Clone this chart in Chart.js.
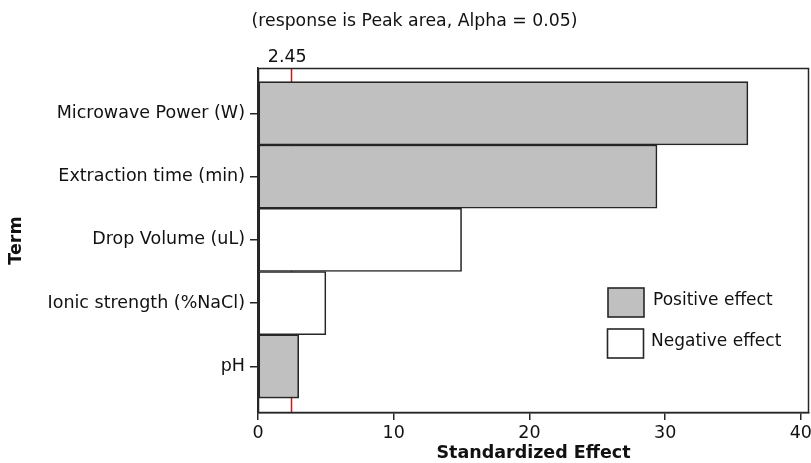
<!DOCTYPE html>
<html><head><meta charset="utf-8">
<script src="https://cdn.jsdelivr.net/npm/chart.js@4/dist/chart.umd.min.js"></script>
<style>html,body{margin:0;padding:0;background:#fff}canvas{display:block}</style>
</head><body>
<canvas id="c" width="811" height="463"></canvas>
<script>
// ---- data ----
const terms = ['Microwave Power (W)', 'Extraction time (min)', 'Drop Volume (uL)', 'Ionic strength (%NaCl)', 'pH'];
const effects = [36.1, 29.4, 15.0, 5.0, 3.0];
const effectSign = ['Positive', 'Positive', 'Negative', 'Negative', 'Positive'];
const xTickValues = [0, 10, 20, 30, 40];
const criticalValue = 2.45;
const criticalLabel = '2.45';
const chartTitle = '(response is Peak area, Alpha = 0.05)';
const legendLabels = ['Positive effect', 'Negative effect'];
const xTitle = 'Standardized Effect';
const yTitle = 'Term';

// ---- style ----
const FONT = 'DejaVu Sans';
const FS = 17.5;
const POS_COLOR = '#c0c0c0';
const NEG_COLOR = '#ffffff';
const LINE = '#262626';
const RED = 'rgb(255,0,0)';

const decor = {
  id: 'decor',
  beforeDatasetsDraw(chart) {
    const {ctx, chartArea: a, scales: {x}} = chart;
    const px = Math.round(x.getPixelForValue(criticalValue)) + 0.5;
    ctx.save();
    ctx.globalAlpha = 1;
    ctx.setLineDash([]);
    ctx.strokeStyle = RED;
    ctx.lineWidth = 1.5;
    ctx.beginPath(); ctx.moveTo(px, a.top + 1); ctx.lineTo(px, a.bottom - 1); ctx.stroke();
    ctx.restore();
  },
  afterDraw(chart) {
    const {ctx, chartArea: a, scales: {x}} = chart;
    ctx.save();
    // frame
    ctx.strokeStyle = LINE; ctx.lineWidth = 1.5;
    ctx.strokeRect(a.left + 0.5, a.top + 0.5, a.right - a.left - 1, a.bottom - a.top - 1);
    // title
    ctx.fillStyle = '#111';
    ctx.font = '17.3px "' + FONT + '"';
    ctx.textAlign = 'center'; ctx.textBaseline = 'middle';
    ctx.fillText(chartTitle, chart.width / 2 + 9, 22);
    // critical value label
    ctx.font = FS + 'px "' + FONT + '"';
    const px = x.getPixelForValue(criticalValue);
    ctx.fillText(criticalLabel, px - 4, a.top - 11);
    // legend
    ctx.font = '17px "' + FONT + '"';
    const items = [
      {label: legendLabels[0], fill: POS_COLOR, bx: 608, by: 288, tx: 653, ty: 301},
      {label: legendLabels[1], fill: NEG_COLOR, bx: 607.5, by: 329, tx: 651, ty: 342}
    ];
    ctx.textAlign = 'left';
    items.forEach(it => {
      ctx.fillStyle = it.fill;
      ctx.fillRect(it.bx, it.by, 36, 29);
      ctx.strokeStyle = LINE; ctx.lineWidth = 1.6;
      ctx.strokeRect(it.bx, it.by, 36, 29);
      ctx.fillStyle = '#111';
      ctx.fillText(it.label, it.tx, it.ty);
    });
    ctx.restore();
  }
};

new Chart(document.getElementById('c'), {
  type: 'bar',
  data: {
    datasets: [{
      data: effects.map((v, i) => ({x: v, y: i})),
      backgroundColor: effectSign.map(s => s === 'Positive' ? POS_COLOR : NEG_COLOR),
      borderColor: LINE,
      borderWidth: 1.6,
      borderSkipped: false,
      barPercentage: 1,
      categoryPercentage: 1
    }]
  },
  options: {
    indexAxis: 'y',
    responsive: false,
    animation: false,
    devicePixelRatio: 1,
    layout: {padding: {top: 68, right: 2, left: 0, bottom: 0}},
    plugins: {legend: {display: false}, tooltip: {enabled: false}, title: {display: false}},
    scales: {
      x: {
        type: 'linear', min: 0, max: 40.6, offset: false,
        afterBuildTicks(s) { s.ticks = xTickValues.map(v => ({value: v})); },
        afterFit(s) { s.height = 50; s.paddingLeft = 0; s.paddingRight = 0; },
        grid: {display: true, offset: false, drawOnChartArea: false, drawTicks: true, tickLength: 7, color: LINE, lineWidth: 1.5},
        border: {display: true, color: LINE, width: 1.5},
        ticks: {color: '#111', font: {family: FONT, size: FS}, padding: 3, maxRotation: 0},
        title: {display: true, text: xTitle, color: '#111', font: {family: FONT, size: FS, weight: 'bold', lineHeight: 1.1}, padding: {top: 0, bottom: 0}}
      },
      y: {
        type: 'linear', reverse: true, min: -0.715, max: 4.736, offset: false,
        afterBuildTicks(s) { s.ticks = terms.map((t, i) => ({value: i})); },
        afterFit(s) { s.width = 258; s.paddingTop = 0; s.paddingBottom = 0; },
        grid: {display: true, offset: false, drawOnChartArea: false, drawTicks: true, tickLength: 8, color: LINE, lineWidth: 1.5},
        border: {display: true, color: LINE, width: 1.5},
        ticks: {color: '#111', font: {family: FONT, size: FS}, padding: 5, callback: v => terms[v] ?? ''},
        title: {display: true, text: yTitle, color: '#111', font: {family: FONT, size: FS, weight: 'bold', lineHeight: 1.2}, padding: {top: 6, bottom: 0}}
      }
    }
  },
  plugins: [decor]
});
</script>
</body></html>
